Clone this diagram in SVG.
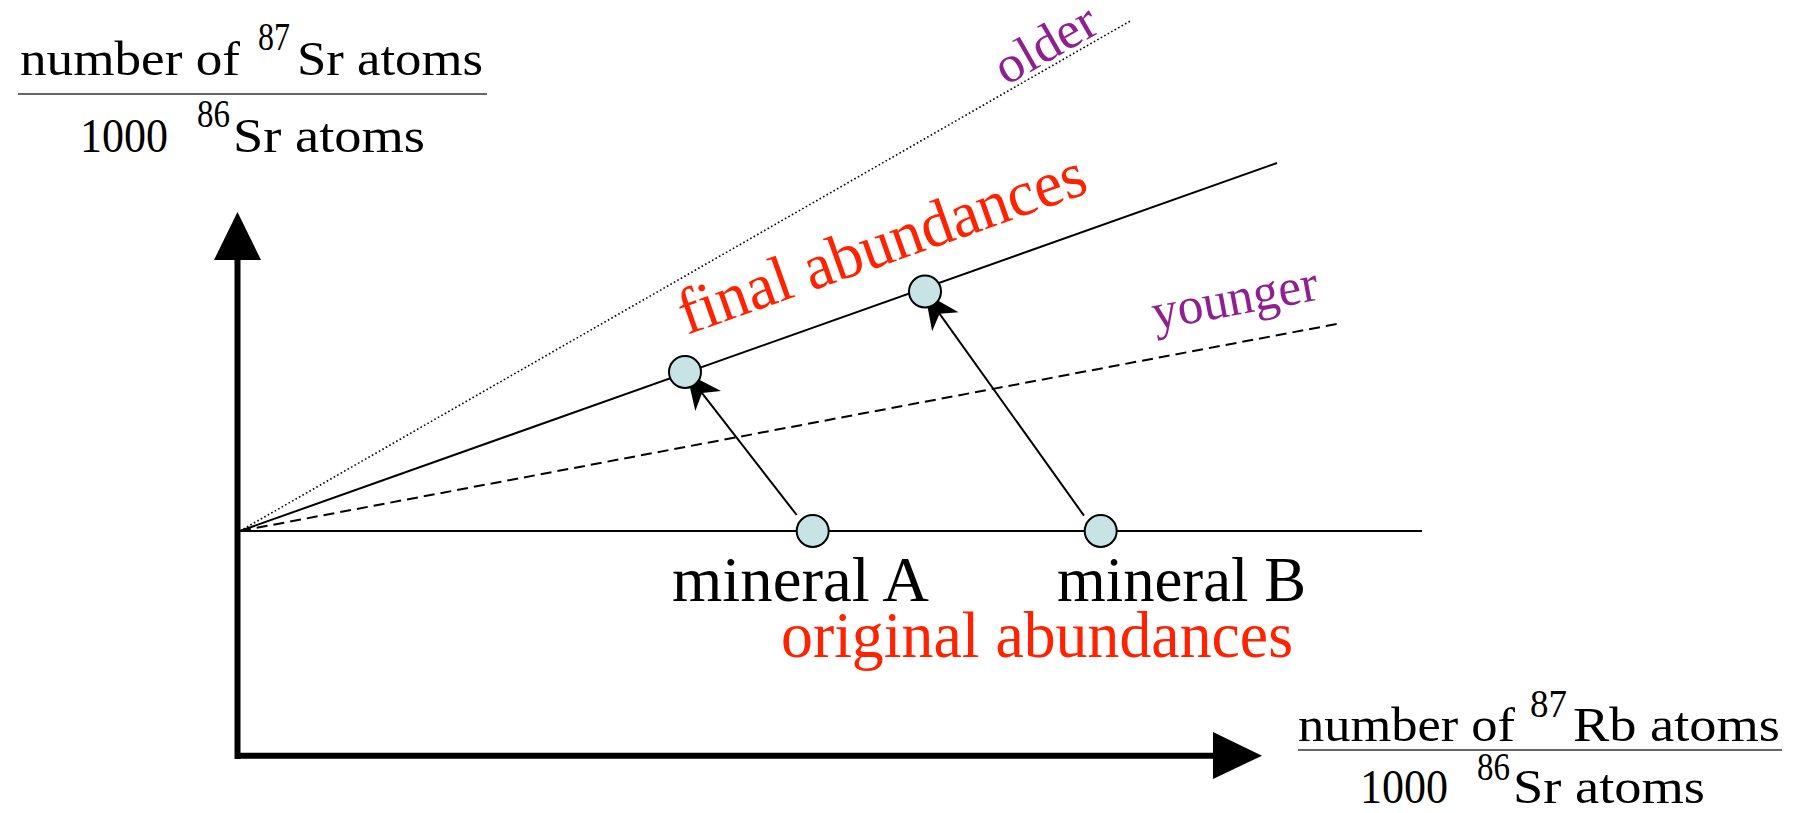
<svg xmlns="http://www.w3.org/2000/svg" width="1802" height="813" viewBox="0 0 1802 813">
<style>
text{font-family:"Liberation Serif","Times New Roman",serif;}
.lab{font-size:48px;fill:#000;}
.sup{font-size:39px;fill:#000;}
.big{font-size:64px;fill:#000;}
.red{font-size:65px;fill:#ff2200;}
.pur{font-size:52px;fill:#8e2090;}
.thin{stroke:#000;stroke-width:2;fill:none;}
.frac{stroke:#333;stroke-width:1.5;}
.axis{stroke:#000;stroke-width:6;fill:none;}
.pt{fill:#c7e3e6;stroke:#000;stroke-width:2;}
.arr{stroke:#000;stroke-width:2;fill:none;marker-end:url(#stealth);}
</style>
<defs>
<marker id="stealth" markerUnits="userSpaceOnUse" markerWidth="40" markerHeight="40" viewBox="-30 -15 32 30" refX="0" refY="0" orient="auto">
<path d="M0,0 L-28,-13 L-20,0 L-28,13 Z" fill="#000"/>
</marker>
</defs>
<rect width="1802" height="813" fill="#fff"/>

<g id="connectors">
<line class="thin" x1="240" y1="531" x2="1422" y2="531"/>
<line class="thin" x1="240" y1="531" x2="1277" y2="163"/>
<line class="thin" x1="240" y1="531" x2="1342" y2="323" stroke-dasharray="11,6"/>
<line x1="240" y1="531" x2="1132" y2="20" stroke="#000" stroke-width="1.6" stroke-dasharray="1.6,2.4"/>
<line class="arr" x1="796.7" y1="515" x2="686.7" y2="373.3"/>
<line class="arr" x1="1084" y1="515.7" x2="925" y2="293.3"/>
</g>

<g id="y-axis">
<line class="axis" x1="237.5" y1="759" x2="237.5" y2="258"/>
<polygon points="237.5,212 214,260 261,260" fill="#000"/>
</g>
<g id="x-axis">
<line class="axis" x1="235" y1="755.7" x2="1215" y2="755.7"/>
<polygon points="1262,755.7 1213,732 1213,779" fill="#000"/>
</g>

<g id="pointA-orig"><circle class="pt" cx="812.7" cy="531" r="16"/></g>
<g id="pointB-orig"><circle class="pt" cx="1100.7" cy="531" r="16"/></g>
<g id="pointA-final"><circle class="pt" cx="685" cy="372" r="16"/></g>
<g id="pointB-final"><circle class="pt" cx="925" cy="291.5" r="16"/></g>

<g id="y-label">
<text class="lab" x="20" y="75" textLength="220" lengthAdjust="spacingAndGlyphs">number of</text>
<text class="sup" x="258" y="50" textLength="32" lengthAdjust="spacingAndGlyphs">87</text>
<text class="lab" x="297" y="75" textLength="186" lengthAdjust="spacingAndGlyphs">Sr atoms</text>
<line class="frac" x1="18" y1="94" x2="487" y2="94"/>
<text class="lab" x="80" y="152" textLength="88" lengthAdjust="spacingAndGlyphs">1000</text>
<text class="sup" x="197" y="127" textLength="33" lengthAdjust="spacingAndGlyphs">86</text>
<text class="lab" x="233" y="152" textLength="192" lengthAdjust="spacingAndGlyphs">Sr atoms</text>
</g>

<g id="x-label">
<text class="lab" x="1298" y="741" textLength="217" lengthAdjust="spacingAndGlyphs">number of</text>
<text class="sup" x="1530" y="717" textLength="37" lengthAdjust="spacingAndGlyphs">87</text>
<text class="lab" x="1573" y="741" textLength="207" lengthAdjust="spacingAndGlyphs">Rb atoms</text>
<line class="frac" x1="1298" y1="750" x2="1782" y2="750"/>
<text class="lab" x="1360" y="803" textLength="88" lengthAdjust="spacingAndGlyphs">1000</text>
<text class="sup" x="1477" y="780" textLength="33" lengthAdjust="spacingAndGlyphs">86</text>
<text class="lab" x="1513" y="803" textLength="192" lengthAdjust="spacingAndGlyphs">Sr atoms</text>
</g>

<g id="label-mineralA"><text class="big" x="672" y="601" textLength="257" lengthAdjust="spacingAndGlyphs">mineral A</text></g>
<g id="label-mineralB"><text class="big" x="1057" y="601" textLength="249" lengthAdjust="spacingAndGlyphs">mineral B</text></g>
<g id="label-original"><text class="red" x="781" y="657" textLength="512" lengthAdjust="spacingAndGlyphs">original abundances</text></g>
<g id="label-final"><text class="red" transform="translate(687,335) rotate(-19.5)" textLength="428" lengthAdjust="spacingAndGlyphs">final abundances</text></g>
<g id="label-older"><text class="pur" transform="translate(1006,86) rotate(-29.8)" textLength="110" lengthAdjust="spacingAndGlyphs">older</text></g>
<g id="label-younger"><text class="pur" transform="translate(1155,330) rotate(-10.5)" textLength="168" lengthAdjust="spacingAndGlyphs">younger</text></g>
</svg>
